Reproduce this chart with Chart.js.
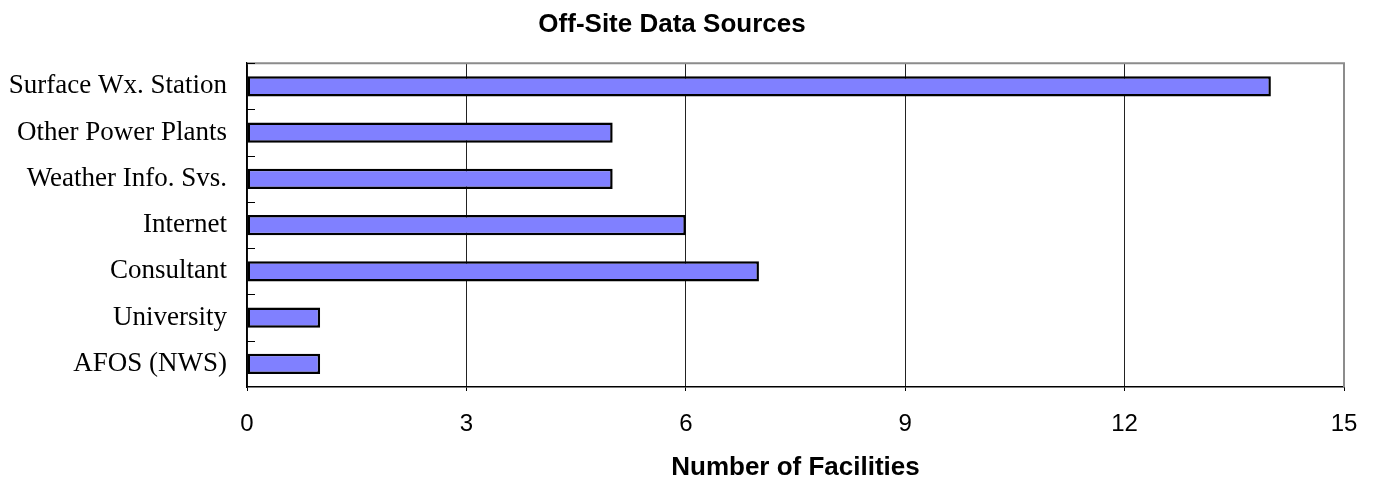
<!DOCTYPE html>
<html>
<head>
<meta charset="utf-8">
<script src="https://cdn.jsdelivr.net/npm/chart.js@4/dist/chart.umd.min.js"></script>
<style>
  html, body { margin: 0; padding: 0; background: #fff; }
  #wrap { width: 1377px; height: 485px; position: relative; }
</style>
</head>
<body>
<div id="wrap"><canvas id="sourcesChart"></canvas></div>
<script>
const categories = ['Surface Wx. Station', 'Other Power Plants', 'Weather Info. Svs.', 'Internet', 'Consultant', 'University', 'AFOS (NWS)'];
const facilities = [14, 5, 5, 6, 7, 1, 1];
const xTicks = [0, 3, 6, 9, 12, 15];

// gray frame on top/right plus small inward ticks on the category axis
const frameAndTicks = {
    id: 'frameAndTicks',
    afterDraw(chart) {
        const { ctx, chartArea: a, scales } = chart;
        ctx.save();
        ctx.strokeStyle = '#8c8c8c';
        ctx.lineWidth = 2;
        ctx.beginPath();
        ctx.moveTo(a.left, a.top);
        ctx.lineTo(a.right, a.top);
        ctx.lineTo(a.right, a.bottom);
        ctx.stroke();

        ctx.strokeStyle = '#000';
        ctx.lineWidth = 1;
        const y = scales.y;
        for (let i = 0; i < categories.length; i++) {
            const py = Math.round(y.getPixelForValue(i - 0.5)) + 0.5;
            ctx.beginPath();
            ctx.moveTo(a.left, py);
            ctx.lineTo(a.left + 8, py);
            ctx.stroke();
        }
        ctx.restore();
    }
};

new Chart(document.getElementById('sourcesChart'), {
    type: 'bar',
    data: {
        labels: categories,
        datasets: [{
            data: facilities,
            backgroundColor: '#8080ff',
            borderColor: '#000',
            borderWidth: 2.5,
            borderSkipped: false,
            barPercentage: 0.435,
            categoryPercentage: 1
        }]
    },
    options: {
        indexAxis: 'y',
        responsive: true,
        maintainAspectRatio: false,
        animation: false,
        layout: { padding: { left: 0, right: 33, top: 0, bottom: 0 } },
        plugins: {
            legend: { display: false },
            tooltip: { enabled: false },
            title: {
                display: true,
                text: 'Off-Site Data Sources',
                color: '#000',
                font: { family: 'Arial, "Liberation Sans", sans-serif', size: 26, weight: 'bold' },
                padding: { top: 9, bottom: 23 }
            }
        },
        scales: {
            x: {
                min: 0,
                max: 15,
                afterBuildTicks: s => { s.ticks = xTicks.map(v => ({ value: v })); },
                grid: {
                    color: c => (c.tick && c.tick.value === 15 ? 'rgba(0,0,0,0)' : '#222'),
                    tickColor: '#000',
                    lineWidth: 1,
                    tickLength: 4
                },
                border: { color: '#000', width: 1.5 },
                ticks: {
                    color: '#000',
                    padding: 19,
                    maxRotation: 0,
                    font: { family: 'Arial, "Liberation Sans", sans-serif', size: 24 }
                },
                title: {
                    display: true,
                    text: 'Number of Facilities',
                    color: '#000',
                    font: { family: 'Arial, "Liberation Sans", sans-serif', size: 26, weight: 'bold' },
                    padding: { top: 0, bottom: 2 }
                },
                afterFit: s => { s.height = 98; }
            },
            y: {
                grid: { display: false, drawTicks: false },
                border: { color: '#000', width: 1.5 },
                ticks: {
                    color: '#000',
                    padding: 20,
                    font: { family: '"Times New Roman", "Liberation Serif", serif', size: 27 }
                },
                afterFit: s => { s.width = 247; }
            }
        }
    },
    plugins: [frameAndTicks]
});
</script>
</body>
</html>
